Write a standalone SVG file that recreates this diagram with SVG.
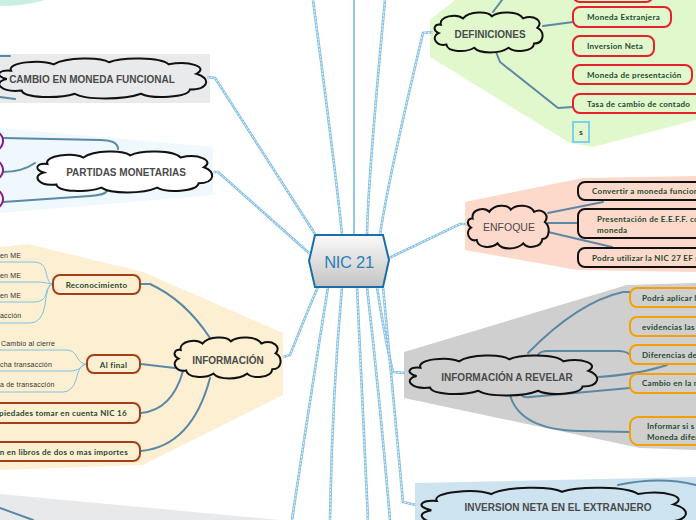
<svg xmlns="http://www.w3.org/2000/svg" width="696" height="520" viewBox="0 0 696 520">
<defs>
<linearGradient id="hexg" x1="0" y1="0" x2="0" y2="1">
<stop offset="0" stop-color="#fafafa"/>
<stop offset="1" stop-color="#c4c4c4"/>
</linearGradient>
</defs>
<style>
.cloud{stroke:#111;stroke-width:2;}
.ct{font-family:"Liberation Sans",Arial,sans-serif;font-weight:bold;font-size:10px;fill:#4a4a4a;text-anchor:middle;}
.ctr{font-family:"Liberation Sans",Arial,sans-serif;font-size:10.5px;fill:#4a4a4a;text-anchor:middle;}
.bt{font-family:Lato,"Open Sans",sans-serif;font-weight:bold;font-size:8px;fill:#1e4a2e;letter-spacing:0.3px;}
.st{font-family:"Liberation Sans",Arial,sans-serif;font-size:7px;fill:#333;letter-spacing:0.2px;}
.tw{fill:none;stroke:#86c0e3;stroke-width:2.6;}
.tw2{fill:none;stroke:#fff;stroke-width:0.9;stroke-dasharray:2 1.5;}
.bl{fill:none;stroke:#5b88a5;stroke-width:2;stroke-linecap:round;}
.sl{fill:none;stroke:#80c2e2;stroke-width:1;}
.rbox{stroke:#a3401b;stroke-width:2;fill:#fdefd2;}
.redbox{stroke:#e8202a;stroke-width:2;fill:#e1f8cd;}
.kbox{stroke:#111;stroke-width:2;fill:#fdd9cc;}
.obox{stroke:#f5a000;stroke-width:2;fill:#cfcfcf;}
</style>

<!-- background regions -->
<g id="regions">
<path d="M0,0 L45,0 Q25,6 0,6 Z" fill="#c9efe0"/>
<rect x="0" y="54" width="210" height="49" fill="#e9eaeb"/>
<path d="M0,128 L213,147 L213,195 L0,213 Z" fill="#eef8fd"/>
<path d="M0,247 L28,244 L143,272 L283,333 L283,395 L143,465 L0,470 Z" fill="#fdefd2"/>
<path d="M455,0 L696,0 L696,120 L593,147 L570,143 L430,57 L430,20 Z" fill="#e1f8cd"/>
<path d="M465,202 L583,178 L696,176 L696,272 L577,270 L465,250 Z" fill="#fdd9cc"/>
<path d="M404,352 L627,285 L696,283 L696,450 L640,448 L404,398 Z" fill="#cfcfcf"/>
<path d="M415,483 L696,477 L696,520 L415,520 Z" fill="#cde4f0"/>
<path d="M0,494 L280,520 L0,520 Z" fill="#e8e9eb"/>
</g>

<!-- connectors -->
<g id="connectors">
<g>
<path class="tw" d="M207,77 L215,78 L315,234"/>
<path class="tw2" d="M207,77 L215,78 L315,234"/>
<path class="tw" d="M213,172 L218,172 L309,253"/>
<path class="tw2" d="M213,172 L218,172 L309,253"/>
<path class="tw" d="M283,357 L290,355 Q312,300 318,287"/>
<path class="tw2" d="M283,357 L290,355 Q312,300 318,287"/>
<path class="tw" d="M313,0 Q338,190 342,235"/>
<path class="tw2" d="M313,0 Q338,190 342,235"/>
<path d="M354,0 L354,235" fill="none" stroke="#94c8e6" stroke-width="2"/>
<path class="tw" d="M385,0 Q368,180 367,235"/>
<path class="tw2" d="M385,0 Q368,180 367,235"/>
<path class="tw" d="M433,32 L423,33 Q388,180 380,235"/>
<path class="tw2" d="M433,32 L423,33 Q388,180 380,235"/>
<path class="tw" d="M389,258 L460,224 L467,224"/>
<path class="tw2" d="M389,258 L460,224 L467,224"/>
<path class="tw" d="M328,287 Q310,400 292,520"/>
<path class="tw2" d="M328,287 Q310,400 292,520"/>
<path class="tw" d="M342,287 Q332,400 330,520"/>
<path class="tw2" d="M342,287 Q332,400 330,520"/>
<path class="tw" d="M357,287 Q362,400 368,520"/>
<path class="tw2" d="M357,287 Q362,400 368,520"/>
<path class="tw" d="M367,287 Q380,400 390,520"/>
<path class="tw2" d="M367,287 Q380,400 390,520"/>
<path class="tw" d="M377,287 Q385,340 393,372 L406,373"/>
<path class="tw2" d="M377,287 Q385,340 393,372 L406,373"/>
<path class="tw" d="M383,287 Q395,420 403,502 L416,505"/>
<path class="tw2" d="M383,287 Q395,420 403,502 L416,505"/>
</g>
<g>
<path class="bl" d="M10,56 L0,56"/>
<path class="bl" d="M15,99 L0,97"/>
<path class="bl" d="M118,149 Q118,140 100,140 L3,138"/>
<path class="bl" d="M35,163 Q22,172 3,172"/>
<path class="bl" d="M107,191 Q105,195 90,196 L3,202"/>
<path class="bl" d="M210,338 Q185,300 150,284 L141,284"/>
<path class="bl" d="M175,368 L141,364"/>
<path class="bl" d="M183,371 Q172,410 141,413"/>
<path class="bl" d="M210,378 Q192,446 141,451"/>
<path class="sl" d="M0,262 L34,262 Q44,262 46,272 Q48,284 53,284"/>
<path class="sl" d="M0,282 L40,282 Q46,283 53,284"/>
<path class="sl" d="M0,302 L34,302 Q44,302 46,294 Q48,284 53,284"/>
<path class="sl" d="M0,323 L30,323 Q42,323 45,305 Q47,284 53,284"/>
<path class="sl" d="M0,350 L66,350 Q74,350 77,357 Q80,364 87,364"/>
<path class="sl" d="M0,371 L70,371 Q78,371 82,366 L87,364"/>
<path class="sl" d="M0,392 L63,392 Q72,392 76,380 Q79,364 87,364"/>
<path class="bl" d="M493,12 L502,0"/>
<path class="bl" d="M543,26 L573,22"/>
<path class="bl" d="M496,52 L500,62 L558,108 L573,107"/>
<path class="bl" d="M548,213 L603,202"/>
<path class="bl" d="M548,223 L578,223"/>
<path class="bl" d="M548,232 L612,247"/>
<path class="bl" d="M528,353 Q578,302 623,292 L630,292"/>
<path class="bl" d="M538,355 Q540,351 548,351 L620,351 Q628,352 630,355"/>
<path class="bl" d="M599,377 Q640,374 667,365"/>
<path class="bl" d="M521,395 Q524,398 530,397 L630,388"/>
<path class="bl" d="M510,395 Q520,430 580,431 L630,432"/>
<path class="bl" d="M618,485 Q660,476 696,485"/>
<path class="bl" d="M0,508 L33,520"/>
</g>
</g>

<!-- central node -->
<g id="nic21">
<path d="M315,235 L383,235 L389,260 L383,287 L315,287 L309,261 Z" fill="url(#hexg)" stroke="#1a6fa8" stroke-width="2"/>
<text x="349" y="268" font-family="'Liberation Sans',Arial,sans-serif" font-size="16.5" fill="#2d7fb8" text-anchor="middle" letter-spacing="-0.3">NIC 21</text>
</g>

<g id="cambio">
<path class="cloud" fill="#e9eaeb" vector-effect="non-scaling-stroke" transform="translate(-6,57) scale(2.13,1.05)" d="M8,13 C6,5 22,2 28,7 C34,0 50,0 54,5 C60,0 78,0 82,7 C92,3 101,10 95,16 C102,20 101,31 92,31 C91,39 74,40 69,35 C61,41 43,41 38,35 C30,40 14,39 13,32 C3,34 -1,24 6,21 C0,18 2,12 8,13 Z"/>
<text class="ct" x="92" y="83">CAMBIO EN MONEDA FUNCIONAL</text>
</g>

<g id="partidas">
<circle cx="-7" cy="141" r="10" fill="#fff" stroke="#8a1a8a" stroke-width="2"/>
<circle cx="-7" cy="170" r="10" fill="#fff" stroke="#8a1a8a" stroke-width="2"/>
<circle cx="-7" cy="199" r="10" fill="#fff" stroke="#8a1a8a" stroke-width="2"/>
<path class="cloud" fill="#fff" vector-effect="non-scaling-stroke" transform="translate(33,150) scale(1.8,1.075)" d="M8,13 C6,5 22,2 28,7 C34,0 50,0 54,5 C60,0 78,0 82,7 C92,3 101,10 95,16 C102,20 101,31 92,31 C91,39 74,40 69,35 C61,41 43,41 38,35 C30,40 14,39 13,32 C3,34 -1,24 6,21 C0,18 2,12 8,13 Z"/>
<text class="ct" x="126" y="176">PARTIDAS MONETARIAS</text>
</g>

<g id="informacion">
<path class="cloud" fill="#fdefd2" vector-effect="non-scaling-stroke" transform="translate(172,336) scale(1.09,1.075)" d="M8,13 C6,5 22,2 28,7 C34,0 50,0 54,5 C60,0 78,0 82,7 C92,3 101,10 95,16 C102,20 101,31 92,31 C91,39 74,40 69,35 C61,41 43,41 38,35 C30,40 14,39 13,32 C3,34 -1,24 6,21 C0,18 2,12 8,13 Z"/>
<text class="ct" x="228" y="364">INFORMACIÓN</text>
</g>
<g id="reconocimiento">
<rect class="rbox" x="53" y="275" width="87" height="19" rx="7"/>
<text class="bt" x="96.5" y="288" text-anchor="middle">Reconocimiento</text>
<text class="st" x="0" y="258">en ME</text>
<text class="st" x="0" y="278">en ME</text>
<text class="st" x="0" y="298">en ME</text>
<text class="st" x="0" y="318">acción</text>
</g>
<g id="alfinal">
<rect class="rbox" x="87" y="355" width="53" height="18" rx="7"/>
<text class="bt" x="113.5" y="367.5" text-anchor="middle">Al final</text>
<text class="st" x="1" y="346">Cambio al cierre</text>
<text class="st" x="0" y="367">cha  transacción</text>
<text class="st" x="0" y="387">a de transacción</text>
</g>
<g id="propiedades">
<rect class="rbox" x="-10" y="403" width="150" height="20" rx="7"/>
<text class="bt" x="127" y="416" text-anchor="end">piedades tomar en cuenta NIC 16</text>
</g>
<g id="libros">
<rect class="rbox" x="-10" y="442" width="150" height="19" rx="7"/>
<text class="bt" x="128" y="455" text-anchor="end">n en libros de dos o mas importes</text>
</g>

<g id="definiciones">
<path class="cloud" fill="#e1f8cd" vector-effect="non-scaling-stroke" transform="translate(432,11) scale(1.11,1.05)" d="M8,13 C6,5 22,2 28,7 C34,0 50,0 54,5 C60,0 78,0 82,7 C92,3 101,10 95,16 C102,20 101,31 92,31 C91,39 74,40 69,35 C61,41 43,41 38,35 C30,40 14,39 13,32 C3,34 -1,24 6,21 C0,18 2,12 8,13 Z"/>
<text class="ct" x="490" y="38">DEFINICIONES</text>
</g>
<g id="def-top"><rect class="redbox" x="573" y="-20" width="80" height="22" rx="7"/></g>
<g id="def-me"><rect class="redbox" x="573" y="7" width="98" height="20" rx="7"/><text class="bt" x="587" y="20">Moneda Extranjera</text></g>
<g id="def-in"><rect class="redbox" x="573" y="36" width="81" height="20" rx="7"/><text class="bt" x="587" y="49">Inversion Neta</text></g>
<g id="def-mp"><rect class="redbox" x="573" y="65" width="119" height="19" rx="7"/><text class="bt" x="587" y="77.5">Moneda de presentación</text></g>
<g id="def-tc"><rect class="redbox" x="573" y="94" width="130" height="19" rx="7"/><text class="bt" x="587" y="106.5">Tasa de cambio de contado</text></g>
<g id="def-s"><rect x="573" y="122" width="16" height="20" fill="#e1f8cd" stroke="#7fd0f0" stroke-width="2"/><text class="bt" x="581" y="135" text-anchor="middle" style="letter-spacing:0">s</text></g>

<g id="enfoque">
<path class="cloud" fill="#fdd9cc" vector-effect="non-scaling-stroke" transform="translate(466,204) scale(0.83,1.125)" d="M8,13 C6,5 22,2 28,7 C34,0 50,0 54,5 C60,0 78,0 82,7 C92,3 101,10 95,16 C102,20 101,31 92,31 C91,39 74,40 69,35 C61,41 43,41 38,35 C30,40 14,39 13,32 C3,34 -1,24 6,21 C0,18 2,12 8,13 Z"/>
<text class="ctr" x="509" y="231">ENFOQUE</text>
</g>
<g id="enf-1"><rect class="kbox" x="578" y="182" width="140" height="18" rx="7"/><text class="bt" x="592" y="194">Convertir a moneda funcion</text></g>
<g id="enf-2"><rect class="kbox" x="578" y="209" width="140" height="29" rx="7"/><text class="bt" x="597" y="222">Presentación de E.E.F.F. con</text><text class="bt" x="597" y="233">moneda</text></g>
<g id="enf-3"><rect class="kbox" x="578" y="248" width="140" height="19" rx="7"/><text class="bt" x="592" y="261">Podra utilizar la NIC 27 EF se</text></g>

<g id="revelar">
<path class="cloud" fill="#cfcfcf" vector-effect="non-scaling-stroke" transform="translate(405,354) scale(1.93,1.05)" d="M8,13 C6,5 22,2 28,7 C34,0 50,0 54,5 C60,0 78,0 82,7 C92,3 101,10 95,16 C102,20 101,31 92,31 C91,39 74,40 69,35 C61,41 43,41 38,35 C30,40 14,39 13,32 C3,34 -1,24 6,21 C0,18 2,12 8,13 Z"/>
<text class="ct" x="507" y="381">INFORMACIÓN A REVELAR</text>
</g>
<g id="rev-1"><rect class="obox" x="630" y="288" width="90" height="19" rx="7"/><text class="bt" x="642" y="300.5">Podrá aplicar l</text></g>
<g id="rev-2"><rect class="obox" x="630" y="317" width="90" height="19" rx="7"/><text class="bt" x="642" y="329.5">evidencias las</text></g>
<g id="rev-3"><rect class="obox" x="630" y="345" width="90" height="19" rx="7"/><text class="bt" x="642" y="357.5">Diferencias de</text></g>
<g id="rev-4"><rect class="obox" x="630" y="374" width="90" height="19" rx="7"/><text class="bt" x="642" y="386">Cambio en la m</text></g>
<g id="rev-5"><rect class="obox" x="630" y="417" width="90" height="28" rx="8"/><text class="bt" x="647" y="429">Informar si s</text><text class="bt" x="647" y="440">Moneda difer</text></g>

<g id="inversion">
<path class="cloud" fill="#cde4f0" vector-effect="non-scaling-stroke" transform="translate(415,486) scale(2.72,1.15)" d="M8,13 C6,5 22,2 28,7 C34,0 50,0 54,5 C60,0 78,0 82,7 C92,3 101,10 95,16 C102,20 101,31 92,31 C91,39 74,40 69,35 C61,41 43,41 38,35 C30,40 14,39 13,32 C3,34 -1,24 6,21 C0,18 2,12 8,13 Z"/>
<text class="ct" x="558" y="511">INVERSION NETA EN EL EXTRANJERO</text>
</g>
</svg>
